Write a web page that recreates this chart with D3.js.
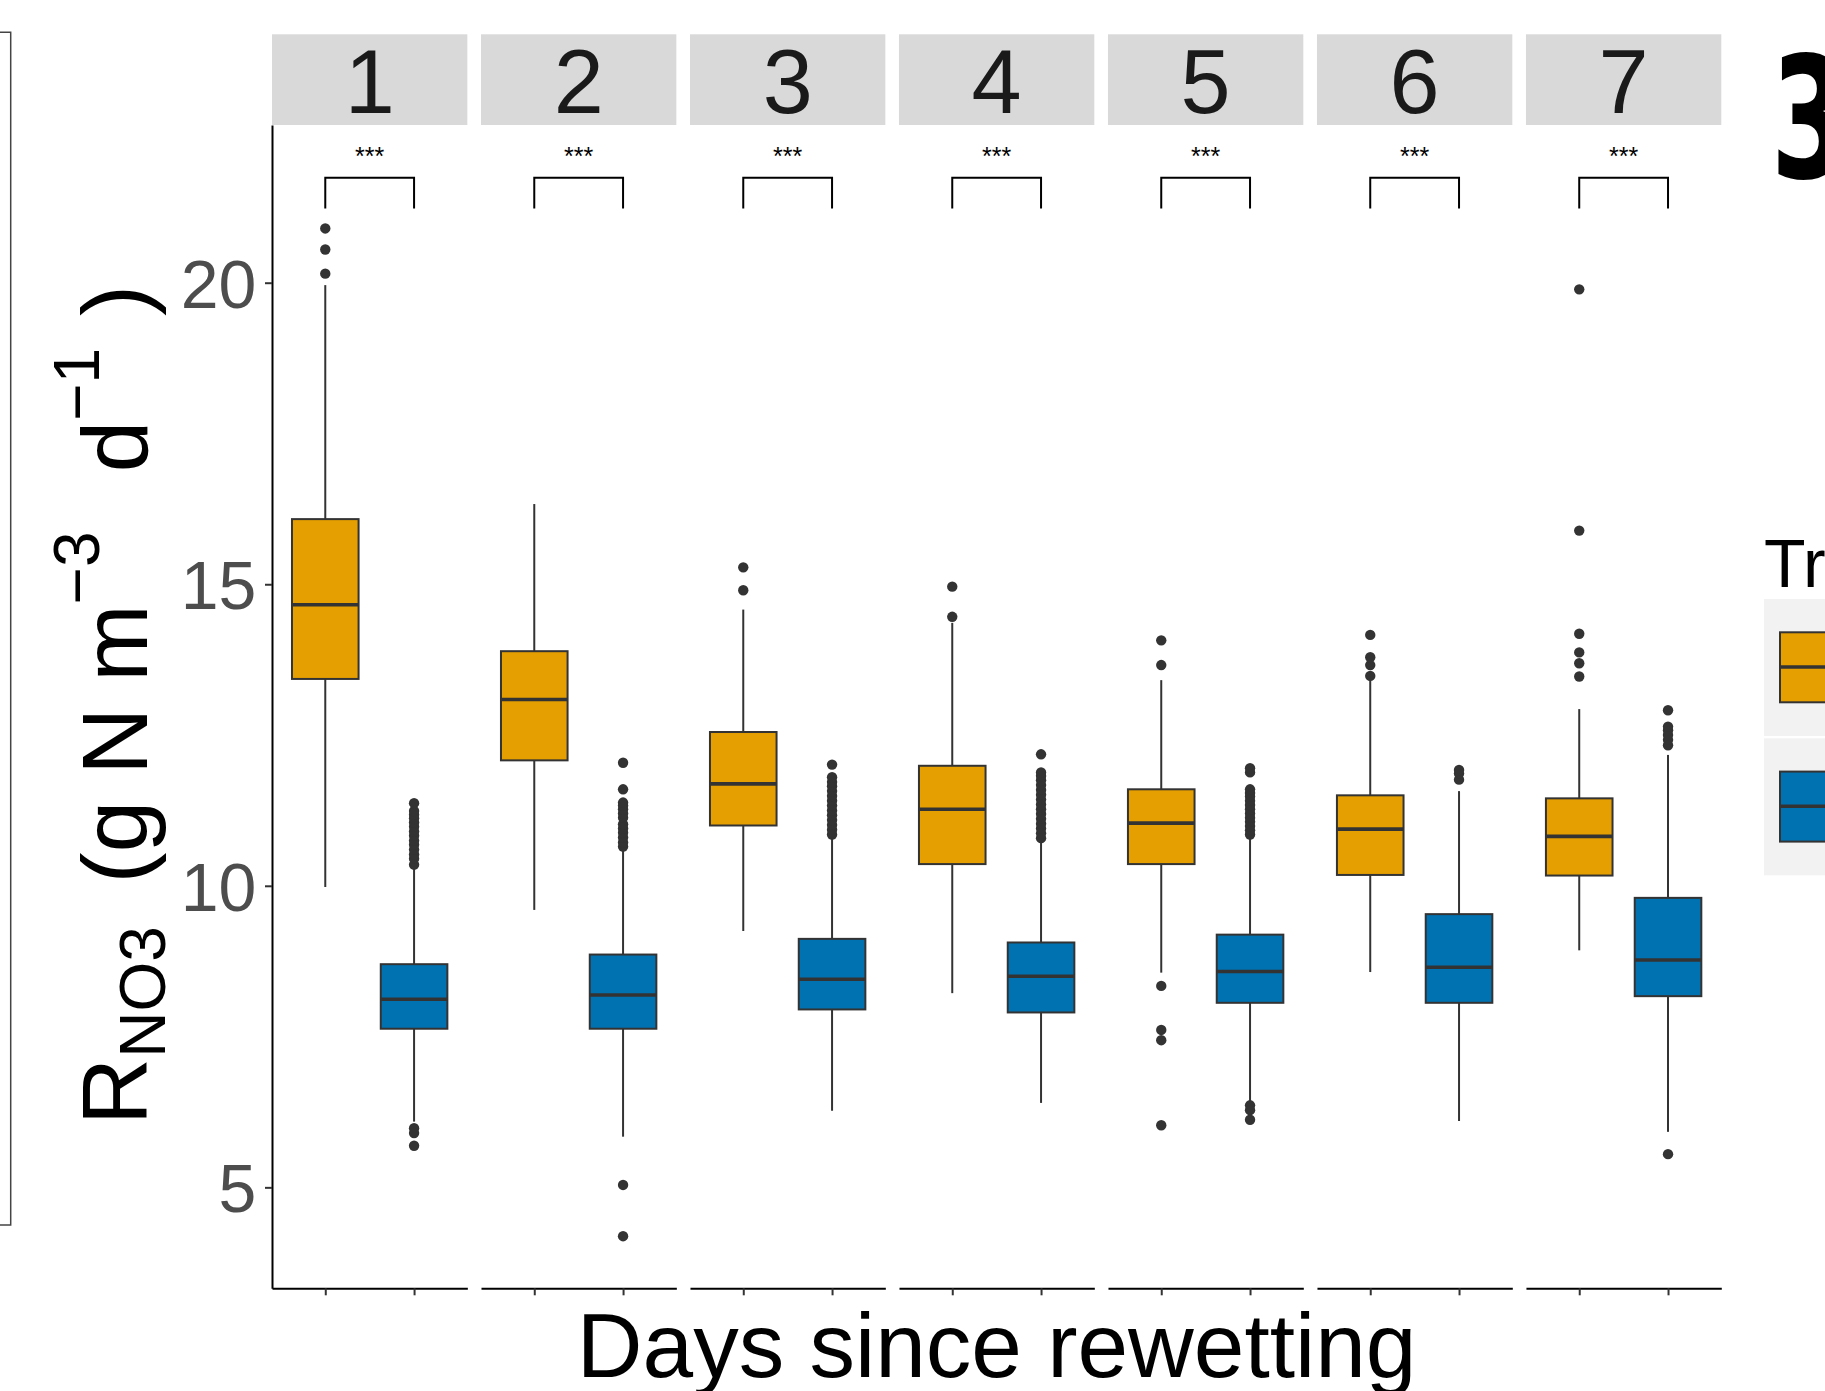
<!DOCTYPE html>
<html><head><meta charset="utf-8">
<script src="https://cdn.jsdelivr.net/npm/d3@7"></script>
<style>body{margin:0;background:#fff}</style>
</head><body>
<svg id="c" width="1825" height="1391" xmlns="http://www.w3.org/2000/svg"></svg>
<script>
// ---------------- data ----------------
const days = ["1","2","3","4","5","6","7"];
const treatments = ["Treatment 1","Treatment 2"];
const colors = ["#E69F00","#0072B2"];
const yTicks = [5,10,15,20];
const sigLabels = ["***","***","***","***","***","***","***"];

// orange (first treatment)
const orangeLo  = [9.98, 9.60, 9.25, 8.22, 8.56, 8.57, 8.93];
const orangeQ1  = [13.43,12.08,11.00,10.36,10.36,10.18,10.17];
const orangeMed = [14.66,13.09,11.69,11.27,11.04,10.94,10.82];
const orangeQ3  = [16.08,13.89,12.55,11.99,11.60,11.50,11.45];
const orangeHi  = [19.96,16.33,14.58,14.36,13.41,13.42,12.93];
const orangeOut = [
  [20.15,20.55,20.90],
  [],
  [14.90,15.28],
  [14.46,14.96],
  [13.66,14.07,8.34,7.61,7.44,6.03],
  [13.48,13.66,13.79,14.16],
  [13.47,13.69,13.87,14.18,15.89,19.89]
];
// blue (second treatment)
const blueLo  = [6.09,5.84,6.27,6.40,6.42,6.10,5.92];
const blueQ1  = [7.63,7.63,7.95,7.90,8.06,8.06,8.17];
const blueMed = [8.12,8.19,8.45,8.50,8.58,8.65,8.77];
const blueQ3  = [8.70,8.86,9.12,9.06,9.19,9.53,9.80];
const blueHi  = [10.28,10.62,10.82,10.76,10.82,11.57,12.17];
const blueOut = [
  [10.35,10.45,10.52,10.60,10.68,10.75,10.83,10.90,10.98,11.05,11.12,11.18,11.24,11.37,5.98,5.90,5.69],
  [10.65,10.72,10.80,10.88,10.95,11.02,11.13,11.20,11.27,11.33,11.38,11.60,12.04,5.04,4.19],
  [10.85,10.93,11.01,11.09,11.17,11.25,11.33,11.41,11.49,11.57,11.65,11.72,11.80,12.01],
  [10.79,10.87,10.95,11.03,11.11,11.19,11.27,11.35,11.43,11.51,11.59,11.67,11.75,11.82,11.88,12.18],
  [10.85,10.92,10.99,11.06,11.13,11.20,11.27,11.34,11.41,11.48,11.54,11.60,11.88,11.95,6.36,6.28,6.12],
  [11.76,11.86,11.92],
  [12.33,12.42,12.50,12.58,12.64,12.91,5.55]
];
// significance bracket (in data units)
const bracketTop = 21.74, bracketLeg = 21.23;

// ---------------- build ----------------
const series = [
  {lo:orangeLo,q1:orangeQ1,med:orangeMed,q3:orangeQ3,hi:orangeHi,out:orangeOut},
  {lo:blueLo,q1:blueQ1,med:blueMed,q3:blueQ3,hi:blueHi,out:blueOut}
];
const boxes = [];
days.forEach((d,i)=>treatments.forEach((t,j)=>{
  const s = series[j];
  boxes.push({day:d,tr:t,j,lo:s.lo[i],q1:s.q1[i],med:s.med[i],q3:s.q3[i],hi:s.hi[i],out:s.out[i]});
}));

const FONT = "'Liberation Sans', Arial, sans-serif";
const svg = d3.select("#c");
const panelTop = 125, panelBottom = 1288.3, left = 272, right = 1721.3;

const y = d3.scaleLinear().domain([3.326, 22.615]).range([panelBottom, panelTop]);
const xPanel = d3.scaleBand().domain(days).range([left, right]).paddingInner(0.0653).paddingOuter(0);
const bw = xPanel.bandwidth();
const xIn = d3.scalePoint().domain(treatments).range([0, bw]).padding(0.6);
const boxW = 0.75 * xIn.step();
const color = d3.scaleOrdinal().domain(treatments).range(colors);

// left frame fragment
svg.append("path").attr("d","M0,32.3H10.7V1225H0").attr("fill","none").attr("stroke","#444").attr("stroke-width",1.5);

// strips
const strips = svg.append("g");
days.forEach(d=>{
  strips.append("rect").attr("x",xPanel(d)).attr("y",34.3).attr("width",bw).attr("height",panelTop-34.3).attr("fill","#d9d9d9");
  strips.append("text").attr("x",xPanel(d)+bw/2).attr("y",113.3).attr("text-anchor","middle")
    .attr("font-family",FONT).attr("font-size",90).attr("fill","#1a1a1a").text(d);
});

// y axis
const yAx = svg.append("g").attr("transform",`translate(${left},0)`)
  .call(d3.axisLeft(y).tickValues(yTicks).tickSize(7).tickSizeOuter(0).tickPadding(8.6));
yAx.select(".domain").attr("stroke","#000").attr("stroke-width",2);
yAx.selectAll(".tick line").attr("stroke","#333").attr("stroke-width",2);
yAx.selectAll(".tick text").attr("font-family",FONT).attr("font-size",68).attr("fill","#4d4d4d").attr("dy","0.36em");

// x axes per panel
days.forEach(d=>{
  const g = svg.append("g").attr("transform",`translate(${xPanel(d)},${panelBottom})`)
    .call(d3.axisBottom(xIn).tickSize(7).tickSizeOuter(0).tickFormat(""));
  g.select(".domain").attr("stroke","#000").attr("stroke-width",2);
  g.selectAll(".tick line").attr("stroke","#333").attr("stroke-width",2);
});

// boxplots
const cx = b => xPanel(b.day) + xIn(b.tr);
const gb = svg.append("g");
boxes.forEach(b=>{
  const x0 = cx(b);
  gb.append("line").attr("x1",x0).attr("x2",x0).attr("y1",y(b.q3)).attr("y2",y(b.hi)).attr("stroke","#333").attr("stroke-width",2);
  gb.append("line").attr("x1",x0).attr("x2",x0).attr("y1",y(b.q1)).attr("y2",y(b.lo)).attr("stroke","#333").attr("stroke-width",2);
  gb.append("rect").attr("x",x0-boxW/2).attr("y",y(b.q3)).attr("width",boxW).attr("height",y(b.q1)-y(b.q3))
    .attr("fill",color(b.tr)).attr("stroke","#333").attr("stroke-width",2);
  gb.append("line").attr("x1",x0-boxW/2).attr("x2",x0+boxW/2).attr("y1",y(b.med)).attr("y2",y(b.med)).attr("stroke","#333").attr("stroke-width",3.6);
  b.out.forEach(v=>{
    gb.append("circle").attr("cx",x0).attr("cy",y(v)).attr("r",5.2).attr("fill","#333");
  });
});

// significance brackets
days.forEach((d,i)=>{
  const x1 = xPanel(d)+xIn(treatments[0]), x2 = xPanel(d)+xIn(treatments[1]);
  svg.append("path").attr("d",`M${x1},${y(bracketLeg)}V${y(bracketTop)}H${x2}V${y(bracketLeg)}`)
    .attr("fill","none").attr("stroke","#000").attr("stroke-width",2);
  svg.append("text").attr("x",(x1+x2)/2).attr("y",164.6).attr("text-anchor","middle")
    .attr("font-family",FONT).attr("font-size",25).attr("fill","#000").text(sigLabels[i]);
});

// x title
svg.append("text").attr("x",(left+right)/2).attr("y",1377).attr("text-anchor","middle")
  .attr("font-family",FONT).attr("font-size",91).attr("fill","#000").text("Days since rewetting");

// y title (rotated, with sub/superscripts)
const yt = svg.append("text").attr("transform","translate(147,1125) rotate(-90)")
  .attr("font-family",FONT).attr("font-size",93).attr("fill","#000");
yt.append("tspan").text("R");
yt.append("tspan").attr("font-size",64).attr("dy",18).text("NO3");
yt.append("tspan").attr("dy",-18).attr("dx",17).text(" (g N m");
yt.append("tspan").attr("font-size",64).attr("dy",-48).text("\u22123");
yt.append("tspan").attr("dy",48).attr("dx",33).text(" d");
yt.append("tspan").attr("font-size",64).attr("dy",-48).text("\u22121");
yt.append("tspan").attr("dy",48).attr("dx",6).text(" )");

// legend (partially off-canvas)
svg.append("text").attr("x",1764).attr("y",586.7).attr("font-family",FONT).attr("font-size",68).attr("fill","#000").text("Treatment");
treatments.forEach((t,j)=>{
  const ky = 599 + j*139.3;
  svg.append("rect").attr("x",1764).attr("y",ky).attr("width",120).attr("height",137).attr("fill","#f2f2f2");
  svg.append("rect").attr("x",1780).attr("y",ky+33.3).attr("width",120).attr("height",70)
    .attr("fill",color(t)).attr("stroke","#333").attr("stroke-width",2);
  svg.append("line").attr("x1",1780).attr("x2",1900).attr("y1",ky+68).attr("y2",ky+68).attr("stroke","#333").attr("stroke-width",3.6);
});

// panel label (cut off at right edge)
svg.append("text").attr("transform","translate(1771,178) scale(0.66,1)")
  .attr("font-family","'DejaVu Sans', sans-serif").attr("font-weight","bold").attr("font-size",169).attr("fill","#000").text("3");
</script>
</body></html>
